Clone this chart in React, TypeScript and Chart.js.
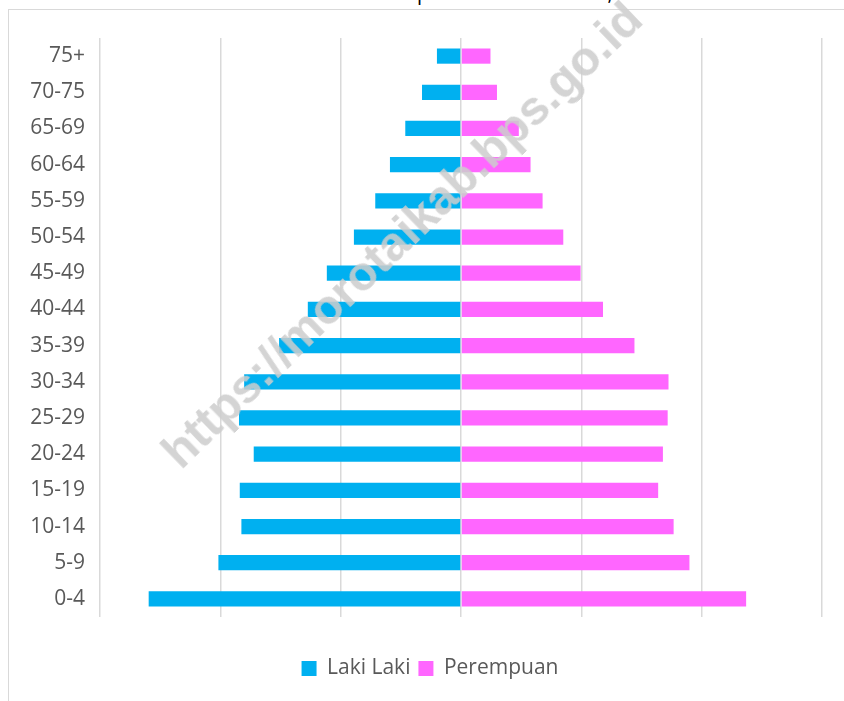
import React, { useEffect, useRef } from "react";
import { Chart, registerables } from "chart.js";

Chart.register(...registerables);

// Age groups, top to bottom
const AGE_GROUPS = [
  "75+", "70-75", "65-69", "60-64", "55-59", "50-54", "45-49", "40-44",
  "35-39", "30-34", "25-29", "20-24", "15-19", "10-14", "5-9", "0-4",
];

// Male population (drawn to the left, stored as negative values)
const LAKI_LAKI = [
  -400, -648, -926, -1181, -1425, -1780, -2230, -2546,
  -3024, -3604, -3690, -3445, -3677, -3650, -4032, -5191,
];

// Female population (drawn to the right)
const PEREMPUAN = [
  490, 598, 961, 1156, 1356, 1700, 1988, 2360,
  2883, 3449, 3435, 3356, 3277, 3534, 3797, 4739,
];

const SERIES_NAMES = ["Laki Laki", "Perempuan"];
const X_MIN = -6000;
const X_MAX = 6000;
const X_STEP = 2000;

const TITLE = "Piramida Penduduk Kabupaten Pulau Morotai, 2020";
const WATERMARK = "https://morotaikab.bps.go.id";

export default function App() {
  const canvasRef = useRef<HTMLCanvasElement | null>(null);

  useEffect(() => {
    if (!canvasRef.current) return;
    const chart = new Chart(canvasRef.current, {
      type: "bar",
      data: {
        labels: AGE_GROUPS,
        datasets: [
          {
            label: SERIES_NAMES[0],
            data: LAKI_LAKI,
            backgroundColor: "#00B0F0",
            borderWidth: 0,
            barPercentage: 0.42,
            categoryPercentage: 1,
          },
          {
            label: SERIES_NAMES[1],
            data: PEREMPUAN,
            backgroundColor: "#FF66FF",
            borderWidth: 0,
            barPercentage: 0.42,
            categoryPercentage: 1,
          },
        ],
      },
      options: {
        indexAxis: "y",
        animation: false,
        responsive: false,
        devicePixelRatio: 1,
        layout: { padding: { top: 38, left: 38, right: 22, bottom: 12 } },
        scales: {
          x: {
            stacked: true,
            min: X_MIN,
            max: X_MAX,
            ticks: { display: false, stepSize: X_STEP },
            grid: {
              color: "#d9d9d9",
              lineWidth: 1.5,
              drawTicks: true,
              tickLength: 33,
              tickColor: "rgba(0,0,0,0)",
            },
            border: { display: false },
          },
          y: {
            stacked: true,
            grid: { display: false, drawTicks: false },
            border: { display: false },
            ticks: {
              color: "#595959",
              font: { family: "Open Sans", size: 21 },
              padding: 15,
            },
            afterFit: (scale: any) => {
              scale.width = 62;
              // let the right-aligned labels extend past the axis box
              scale._computeLabelArea = () => undefined;
            },
          },
        },
        plugins: {
          legend: {
            position: "bottom",
            labels: {
              boxWidth: 15,
              boxHeight: 15,
              padding: 8,
              color: "#595959",
              font: { family: "Open Sans", size: 21 },
            },
          },
          tooltip: { enabled: false },
          title: { display: false },
        },
      },
    });
    return () => chart.destroy();
  }, []);

  return (
    <div
      style={{
        position: "absolute",
        left: 0,
        top: 0,
        width: 844,
        height: 701,
        overflow: "hidden",
        background: "#ffffff",
      }}
    >
      <div
        style={{
          position: "absolute",
          left: 8,
          top: 9,
          width: 900,
          height: 800,
          border: "1px solid #d9d9d9",
          boxSizing: "border-box",
        }}
      />
      <div
        style={{
          position: "absolute",
          left: 0,
          width: 844,
          top: -17,
          textAlign: "center",
          fontFamily: "Open Sans",
          fontSize: 20,
          lineHeight: "20px",
          color: "#000000",
          whiteSpace: "nowrap",
        }}
      >
        {TITLE}
      </div>
      <canvas
        ref={canvasRef}
        width={844}
        height={701}
        style={{ position: "absolute", left: 0, top: 0, width: 844, height: 701 }}
      />
      <div
        style={{
          position: "absolute",
          left: 402,
          top: 235,
          transform: "translate(-50%, -50%) rotate(-44deg)",
          fontFamily: "Liberation Sans",
          fontWeight: "bold",
          fontSize: 48,
          lineHeight: "48px",
          color: "rgba(205,205,205,0.85)",
          whiteSpace: "nowrap",
          pointerEvents: "none",
        }}
      >
        {WATERMARK}
      </div>
    </div>
  );
}
